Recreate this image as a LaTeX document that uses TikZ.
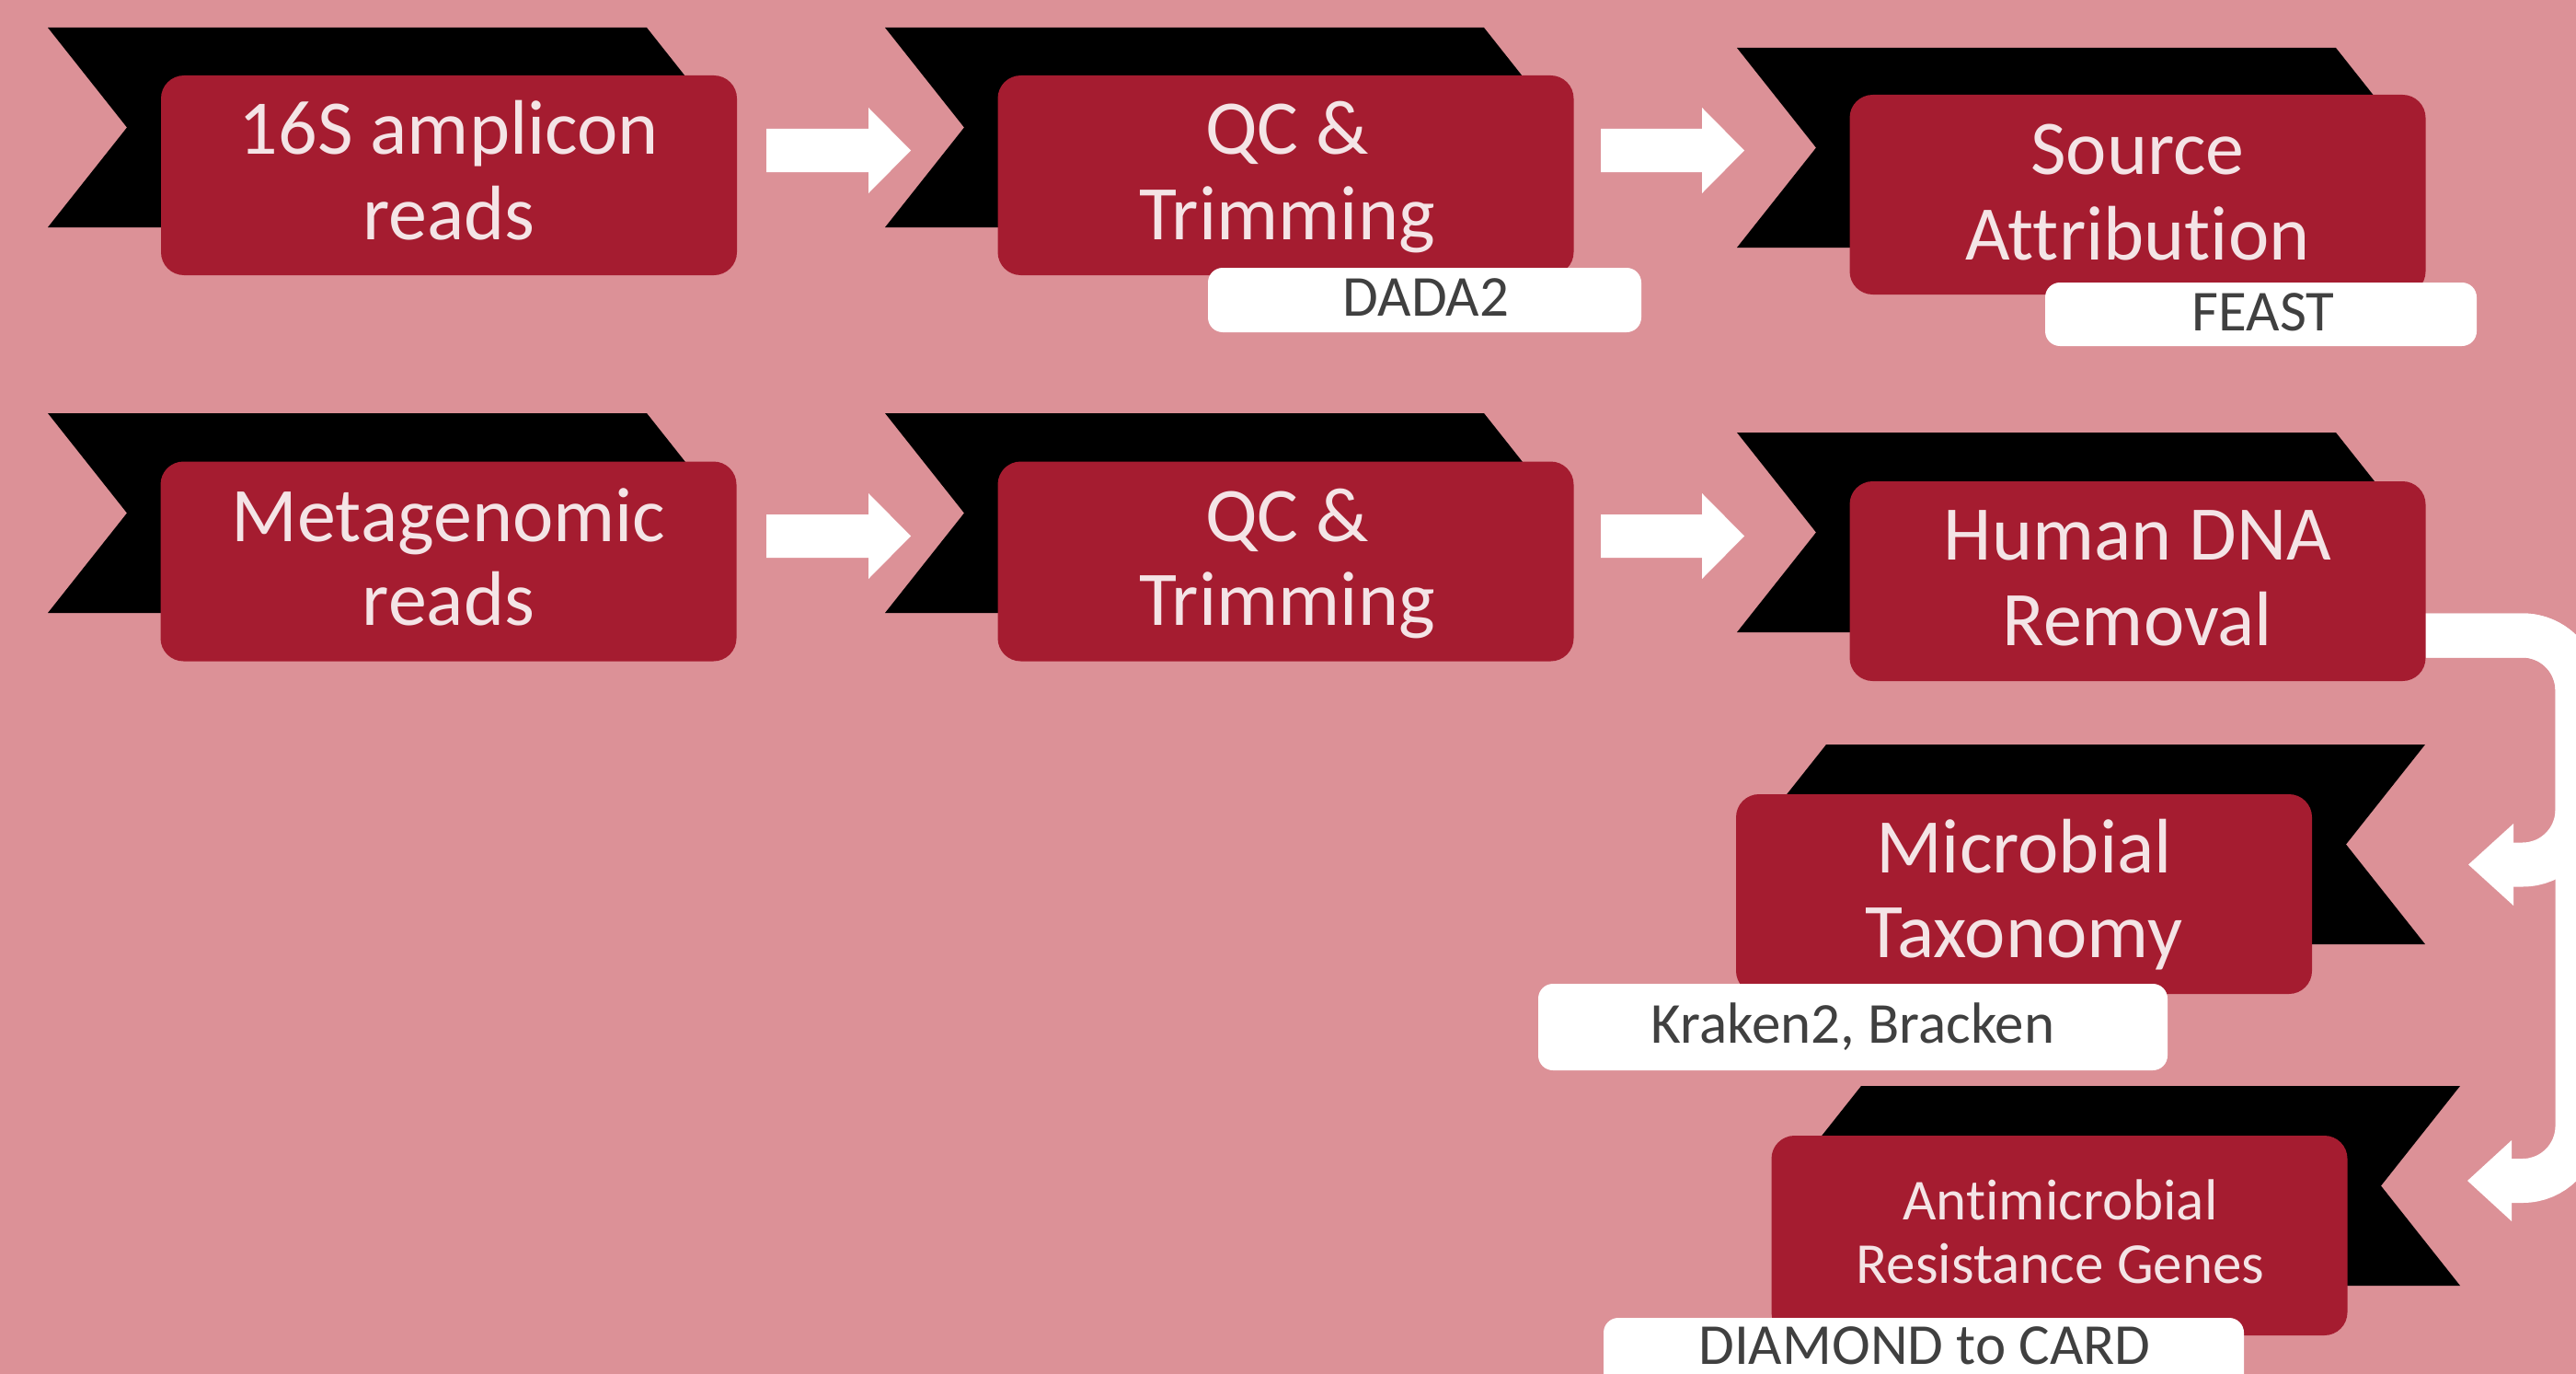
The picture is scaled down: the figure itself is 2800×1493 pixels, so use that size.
\documentclass[tikz,border=0pt]{standalone}
\usepackage{fontspec}
\setmainfont[Ligatures=NoCommon]{Carlito}
\usetikzlibrary{calc}
\definecolor{bgpink}{HTML}{DC9197}
\definecolor{crimson}{HTML}{A51C30}
\definecolor{lighttext}{HTML}{F4E4E6}
\definecolor{labeltext}{HTML}{404040}
% right-pointing chevron, top-left corner given
\newcommand\chevR[2]{\fill[black] (#1,#2) -- ++(651,0) -- ++(86,108.5) -- ++(-86,108.5) -- ++(-651,0) -- ++(86,-108.5) -- cycle;}
% left-pointing chevron, top-right corner given
\newcommand\chevL[2]{\fill[black] (#1,#2) -- ++(-651,0) -- ++(-86,108.5) -- ++(86,108.5) -- ++(651,0) -- ++(-86,-108.5) -- cycle;}
% white block arrow from start coordinate #1 to tip coordinate #2 (rightwards)
\newcommand\harrow[2]{\fill[white] ($(#1)+(0,-23.5)$) -- ($(#2)+(-46,-23.5)$) -- ($(#2)+(-46,-46.5)$) -- (#2) -- ($(#2)+(-46,46.5)$) -- ($(#2)+(-46,23.5)$) -- ($(#1)+(0,23.5)$) -- cycle;}
\begin{document}
\begin{tikzpicture}[x=0.5pt,y=-0.5pt,
  redbox/.style={fill=crimson, rounded corners=12.5pt, minimum width=313pt, minimum height=108.5pt, inner sep=0pt},
  lbl/.style={fill=white, rounded corners=8pt, inner sep=0pt},
  big/.style={text=lighttext, anchor=base, inner sep=0pt, font=\fontsize{42pt}{46pt}\selectfont},
  mid/.style={text=lighttext, anchor=base, inner sep=0pt, font=\fontsize{31.5pt}{34.5pt}\selectfont},
  tag/.style={text=labeltext, anchor=base, inner sep=0pt, font=\fontsize{31.5pt}{34pt}\selectfont},
  conn/.style={white, line width=24pt, rounded corners=29.75pt}]
\useasboundingbox (0,0) rectangle (2800,1493);
\begin{scope}
\clip (0,0) rectangle (2800,1493);
\fill[bgpink] (0,0) rectangle (2800,1493);

% chevrons
\chevR{52}{30}
\chevR{962}{30}
\chevR{1888}{52}
\chevR{52}{449}
\chevR{962}{449}
\chevR{1888}{470}
\chevL{2636}{809}
\chevL{2674}{1180}

% straight block arrows
\coordinate (a1s) at (833,163.5);  \coordinate (a1t) at (990,163.5);
\coordinate (a2s) at (1740,163.5); \coordinate (a2t) at (1896,163.5);
\coordinate (a3s) at (833,582.5);  \coordinate (a3t) at (990,582.5);
\coordinate (a4s) at (1740,582.5); \coordinate (a4t) at (1896,582.5);
\harrow{a1s}{a1t}
\harrow{a2s}{a2t}
\harrow{a3s}{a3t}
\harrow{a4s}{a4t}

% curved connector from Human DNA Removal
\coordinate (c0) at (2625,690.5);
\coordinate (cv) at (2801.5,690.5);
\coordinate (h1) at (2731,939.5);
\coordinate (h2) at (2729,1283);
\coordinate (k1) at (2683,939.5);
\coordinate (k2) at (2682,1283);
\draw[conn] (c0) -- (cv) -- (cv |- h1) -- (h1);
\draw[conn] (c0) -- (cv) -- (cv |- h2) -- (h2);
\fill[white] (k1) -- ($(k1)+(49,-44.5)$) -- ($(k1)+(49,44.5)$) -- cycle;
\fill[white] (k2) -- ($(k2)+(48,-44)$) -- ($(k2)+(48,44)$) -- cycle;

% red boxes
\node[redbox] (b1) at (488,190.5) {};
\node[redbox] (b2) at (1397.5,190.5) {};
\node[redbox] (b3) at (2323.5,211.5) {};
\node[redbox] (b4) at (487.5,610) {};
\node[redbox] (b5) at (1397.5,610) {};
\node[redbox] (b6) at (2323.5,631.5) {};
\node[redbox] (b7) at (2200,971.5) {};
\node[redbox] (b8) at (2238.5,1342.5) {};

% box texts
\node[big] (t1a) at (488,168) {16S amplicon};
\node[big] (t1b) at (488,260) {reads};
\node[big] (t2a) at (1399,168) {QC \&};
\node[big] (t2b) at (1399,260) {Trimming};
\node[big] (t3a) at (2323.5,190) {Source};
\node[big] (t3b) at (2323.5,282) {Attribution};
\node[big] (t4a) at (487.5,588) {Metagenomic};
\node[big] (t4b) at (487.5,679) {reads};
\node[big] (t5a) at (1399,588) {QC \&};
\node[big] (t5b) at (1399,679) {Trimming};
\node[big] (t6a) at (2323.5,608) {Human DNA};
\node[big] (t6b) at (2323.5,701) {Removal};
\node[big] (t7a) at (2200,948) {Microbial};
\node[big] (t7b) at (2200,1040) {Taxonomy};
\node[mid] (t8a) at (2239.5,1325) {Antimicrobial};
\node[mid] (t8b) at (2239.5,1394) {Resistance Genes};

% tool labels
\node[lbl, minimum width=235.5pt, minimum height=35pt] (l2) at (1548.5,326) {};
\node[tag] (m2) at (1550,343) {DADA2};
\node[lbl, minimum width=234.5pt, minimum height=34.5pt] (l3) at (2457.5,341.5) {};
\node[tag] (m3) at (2460,359) {FEAST};
\node[lbl, minimum width=342pt, minimum height=47pt] (l7) at (2014,1116) {};
\node[tag] (m7) at (2014,1133) {Kraken2, Bracken};
\node[lbl, minimum width=348pt, minimum height=47pt] (l8) at (2091,1479) {};
\node[tag] (m8) at (2092,1482) {DIAMOND to CARD};
\end{scope}
\end{tikzpicture}
\end{document}
